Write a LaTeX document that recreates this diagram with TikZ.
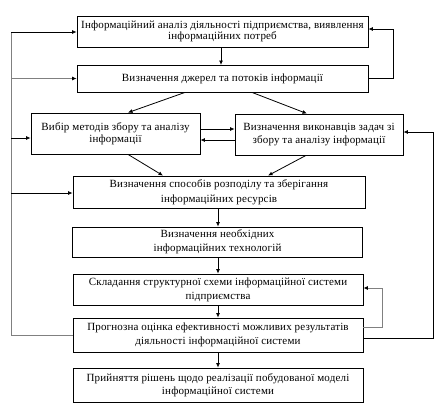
\documentclass[tikz,border=0pt]{standalone}
\usepackage{fontspec}
\setmainfont{Liberation Serif}[LetterSpace=1.5]
\usetikzlibrary{arrows.meta,calc}
\begin{document}
\begin{tikzpicture}[x=1pt,y=-1pt,
  box/.style={draw=black,line width=0.8pt,inner sep=1pt,align=center,font=\fontsize{11}{#1}\selectfont},
  box/.default=12,
  arr/.style={draw=black,line width=0.8pt,-{Latex[length=4.5pt,width=4pt]}},
  ln/.style={draw=black,line width=0.8pt},
  garr/.style={draw=black!50,line width=0.9pt,-{Latex[length=4.5pt,width=4pt,color=black]}},
  gln/.style={draw=black!50,line width=0.9pt}]
\useasboundingbox (0,0) rectangle (439,407);
\node[box=11.7,minimum width=291pt,minimum height=31pt] (b1) at (222.5,31.5)
  {Інформаційний аналіз діяльності підприємства, виявлення\\інформаційних потреб};
\node[box,minimum width=291pt,minimum height=27pt] (b2) at (222.5,78.5)
  {Визначення джерел та потоків інформації};
\node[box=11.7,minimum width=169pt,minimum height=41pt] (b3) at (115.5,133.5)
  {Вибір методів збору та аналізу\\інформації};
\node[box=12.7,minimum width=168pt,minimum height=41pt] (b4) at (319,134.5)
  {Визначення виконавців задач зі\\збору та аналізу інформації};
\node[box=15.5,minimum width=292pt,minimum height=32pt] (b5) at (219,192)
  {Визначення способів розподілу та зберігання\\інформаційних ресурсів};
\node[box=14,minimum width=290pt,minimum height=30pt] (b6) at (217.5,242)
  {Визначення необхідних\\інформаційних технологій};
\node[box=14,minimum width=290pt,minimum height=31pt] (b7) at (218,289.5)
  {Складання структурної схеми інформаційної системи\\підприємства};
\node[box=14,minimum width=290pt,minimum height=34pt] (b8) at (218,335)
  {Прогнозна оцінка ефективності можливих результатів\\діяльності інформаційної системи};
\node[box=13.5,minimum width=290pt,minimum height=34pt] (b9) at (218,385)
  {Прийняття рішень щодо реалізації побудованої моделі\\інформаційної системи};
% vertical arrows
\draw[arr] (221,47) -- (221,65);
\draw[arr] (b5.south -| 218,0) -- (b6.north -| 218,0);
\draw[arr] (b6.south -| 218,0) -- (b7.north -| 218,0);
\draw[arr] (b7.south -| 218,0) -- (b8.north -| 218,0);
\draw[arr] (b8.south -| 218,0) -- (b9.north -| 218,0);
% diagonals
\draw[arr] (b2.south -| 185,0) -- (b3.north -| 128,0);
\draw[arr] (b2.south -| 252,0) -- (b4.north -| 307,0);
\draw[arr] (b3.south -| 128,0) -- (b5.north -| 163,0);
\draw[arr] (b4.south -| 306,0) -- (b5.north -| 268,0);
% between b3 and b4
\draw[arr] (b3.east |- 0,129) -- (b4.west |- 0,129);
\draw[arr] (b4.west |- 0,140) -- (b3.east |- 0,140);
% left feedback
\coordinate (lt) at (11,32);
\coordinate (lb) at (11,335);
\draw[gln] (b8.west) -- (lb) -- (lt);
\draw[arr] (lt) -- (b1.west |- lt);
\draw[garr] (lt |- b2.west) -- (b2.west);
\draw[arr] (11,138) -- (b3.west |- 0,138);
\draw[arr] (11,193) -- (b5.west |- 0,193);
% right loops
\coordinate (r1) at (393,29);
\draw[ln] (b2.east) -| (r1);
\draw[arr] (r1) -- (b1.east |- r1);
\coordinate (r2) at (382,288);
\draw[gln] (b8.east |- 0,327) -| (r2);
\draw[garr] (r2) -- (b7.east |- r2);
\coordinate (r3) at (433,132);
\draw[ln] (b8.east |- 0,338) -| (r3);
\draw[arr] (r3) -- (b4.east |- r3);
\end{tikzpicture}
\end{document}
